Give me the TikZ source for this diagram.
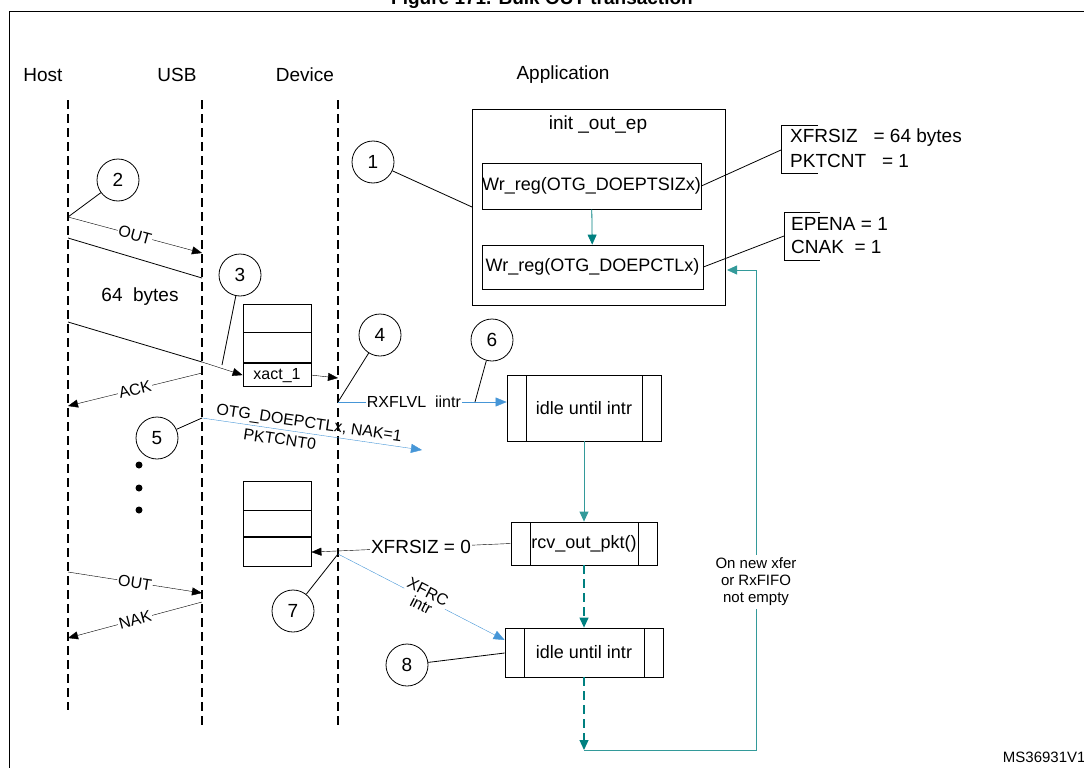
\documentclass[tikz,border=0pt]{standalone}
\usepackage{fontspec}
\setmainfont{Liberation Sans}
\usetikzlibrary{arrows.meta,positioning}
\definecolor{teal1}{RGB}{0,128,128}
\definecolor{blue1}{RGB}{70,150,215}
\tikzset{
  lbl/.style={font=\fontsize{19}{21}\selectfont, inner sep=1pt, text=black},
  sml/.style={font=\fontsize{16}{18}\selectfont, inner sep=1pt, fill=white, text=black},
  stepnum/.style={draw, thick, circle, minimum size=42pt, inner sep=0pt, font=\fontsize{19}{21}\selectfont},
  life/.style={very thick, dash pattern=on 9pt off 5pt},
  box/.style={draw, thick, inner sep=0pt, font=\fontsize{18}{20}\selectfont},
  proc/.style={box, path picture={
      \draw[thick] ([xshift=19pt]path picture bounding box.north west) -- ([xshift=19pt]path picture bounding box.south west);
      \draw[thick] ([xshift=-19pt]path picture bounding box.north east) -- ([xshift=-19pt]path picture bounding box.south east);}},
  msg/.style={-{Triangle[length=10pt,width=8pt]}},
  flow/.style={teal1, thick, -{Triangle[length=10pt,width=9pt]}},
  irq/.style={blue1, -{Triangle[length=11pt,width=9pt]}},
}
\begin{document}
\begin{tikzpicture}[x=1pt, y=-1pt, line cap=butt, line join=miter]
  \useasboundingbox (0,0) rectangle (1084,768);
  % cadre et titre
  \draw[thick] (9,800) -- (9,11) -- (1100,11);
  \node[font=\bfseries\fontsize{19}{21}\selectfont] (title) at (542,0) {Figure 171. Bulk OUT transaction};

  % colonnes
  \node[lbl] (host) at (43,75) {Host};
  \node[lbl] (usb) at (177,75) {USB};
  \node[lbl] (dev) at (305,75) {Device};
  \node[lbl] (app) at (563,75) {Application};
  \draw[life] (68,100) -- (68,710);
  \draw[life] (202,100) -- (202,725);
  \draw[life] (338,100) -- (338,725);

  % init_out_ep
  \node[box, minimum width=253pt, minimum height=196pt] (init) at (598.5,207) {};
  \node[lbl] (initlbl) at (598,125) {init \_out\_ep};
  \node[box, minimum width=219pt, minimum height=46pt] (wrsiz) at (591.5,186) {Wr\_reg(OTG\_DOEPTSIZx)};
  \node[box, minimum width=221pt, minimum height=44pt] (wrctl) at (592.5,267) {Wr\_reg(OTG\_DOEPCTLx)};
  \draw[flow] (wrsiz) -- (wrctl);

  % registres
  \draw[thick] (818,125) -- (781,125) -- (781,173) -- (818,173);
  \node[lbl, anchor=west] (xfrsiz) at (789,138) {XFRSIZ\ \ \ = 64 bytes};
  \node[lbl, anchor=west] (pktcnt) at (789,161) {PKTCNT\ \ \ = 1};
  \draw[thick] (wrsiz.east) -- (781,150);
  \draw[thick] (820,212) -- (784,212) -- (784,260) -- (820,260);
  \node[lbl, anchor=west] (epena) at (790,224) {EPENA = 1};
  \node[lbl, anchor=west] (cnak) at (790,247) {CNAK\ \ = 1};
  \draw[thick] (wrctl.east) -- (784,236);

  % numeros
  \node[stepnum] (n1) at (373,162) {1};
  \node[stepnum] (n2) at (118,180) {2};
  \node[stepnum] (n3) at (240,275) {3};
  \node[stepnum] (n4) at (380,335) {4};
  \node[stepnum] (n5) at (157,438) {5};
  \node[stepnum] (n6) at (492,340) {6};
  \node[stepnum] (n7) at (293,611) {7};
  \node[stepnum] (n8) at (407,665) {8};
  \draw[thick] (n1) -- (472,207);

  % buffers
  \node[box, minimum width=68pt, minimum height=28pt] (b1a) at (277,318) {};
  \node[box, minimum width=68pt, minimum height=30pt, below=0pt of b1a] (b1b) {};
  \node[box, minimum width=68pt, minimum height=23pt, below=0pt of b1b, font=\fontsize{16}{18}\selectfont] (b1c) {xact\_1};
  \node[box, minimum width=68pt, minimum height=29pt] (b2a) at (277,495.5) {};
  \node[box, minimum width=68pt, minimum height=26pt, below=0pt of b2a] (b2b) {};
  \node[box, minimum width=68pt, minimum height=29pt, below=0pt of b2b] (b2c) {};

  % transactions
  \coordinate (o1a) at (68,217); \coordinate (o1b) at (202,253);
  \draw[msg] (o1a) -- node[sml, sloped] {OUT} (o1b);
  \draw[thick] (68,238) -- (202,278);
  \draw[thick] (68,322) -- (202,362);
  \node[lbl] (bytes) at (140,297) {64\ \ bytes};
  \draw[thick] (n2) -- (o1a);
  \draw[msg] (202,362) -- (b1c.west);
  \draw[thick] (n3) -- (222,365);
  \coordinate (d1) at (338,378);
  \draw[msg] (b1c.east) -- (d1);
  \coordinate (ack1) at (202,373); \coordinate (ack2) at (68,406);
  \draw[msg] (ack1) -- node[sml, sloped] {ACK} (ack2);
  \draw[thick] (n4) -- (338,402);
  \coordinate (c5) at (202,418);
  \draw[thick] (n5) -- (c5);
  \coordinate (c5e) at (422,450);
  \draw[irq] (c5) -- node[sml, fill=none, sloped, above=1pt, pos=0.48] {OTG\_DOEPCTLx, NAK=1}
                     node[sml, fill=none, sloped, below=3pt, pos=0.36] {PKTCNT0} (c5e);
  \foreach \y in {465,488,510} \fill (139,\y) circle (3.5pt);
  \coordinate (o2a) at (68,572); \coordinate (o2b) at (202,593);
  \draw[msg] (o2a) -- node[sml, sloped] {OUT} (o2b);
  \coordinate (k1) at (202,602); \coordinate (k2) at (68,638);
  \draw[msg] (k1) -- node[sml, sloped] {NAK} (k2);

  % application
  \node[proc, minimum width=154pt, minimum height=66pt] (idle1) at (584,408) {idle until intr};
  \node[proc, minimum width=146pt, minimum height=43pt] (rcv) at (584,543.5) {rcv\_out\_pkt()};
  \node[proc, minimum width=158pt, minimum height=49pt] (idle2) at (584,652.5) {idle until intr};
  \draw[irq] (338,402) -- node[sml, pos=0.45] {RXFLVL\ \ iintr} (idle1.west |- 0,402);
  \draw[thick] (n6) -- (475,402);
  \draw[flow, teal1!80] (idle1) -- (rcv);
  \draw[msg] (rcv.west) -- node[lbl, fill=white, pos=0.45] {XFRSIZ = 0} (b2c.east);
  \coordinate (d7) at (338,554);
  \draw[thick] (n7) -- (d7);
  \draw[irq] (d7) -- node[sml, fill=white, sloped, align=center, pos=0.52] {XFRC\\[-3pt]intr} (idle2.west |- 0,640);
  \draw[thick] (n8) -- (idle2.west |- 0,653);
  \draw[flow, very thick, dash pattern=on 9pt off 5pt] (rcv) -- (idle2);
  \coordinate (loopb) at (584,750);
  \draw[flow, very thick, dash pattern=on 9pt off 5pt] (idle2) -- (loopb);
  \draw[teal1!80, thick, -{Triangle[length=10pt,width=9pt]}] (loopb) -- (756,750)
     -- node[font=\fontsize{15}{17}\selectfont, text=black, fill=white, align=center, pos=0.35] {On new xfer\\or RxFIFO\\not empty} (756,270) -- (727,270);

  \node[font=\fontsize{15}{17}\selectfont, anchor=east] (ref) at (1089,757) {MS36931V1};
\end{tikzpicture}
\end{document}
